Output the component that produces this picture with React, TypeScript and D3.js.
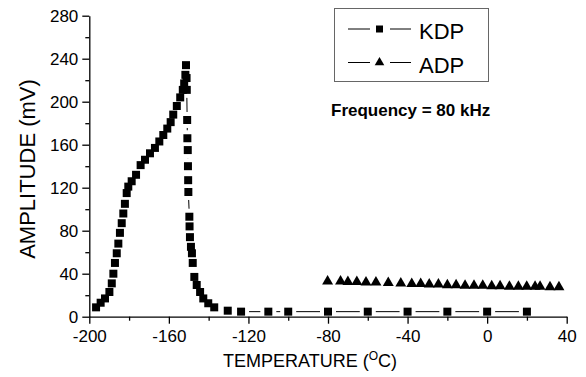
import { useRef, useEffect } from "react";
import * as d3 from "d3";

const svg_width = 586;
const svg_height = 377;

// KDP: temperature (°C) and amplitude (mV)
const kdpTemp = [
    -196.6, -194.3, -192.1, -189.9, -188.7, -187.9, -187.1, -186.2, -185.4, -184.6,
    -183.7, -182.9, -182.1, -181.2, -180.4, -178.7, -176.5, -174.2, -172.0, -169.5,
    -167.0, -164.8, -162.8, -160.8, -159.1, -157.8, -156.0, -154.3, -153.0, -152.3,
    -151.7, -151.4, -151.1, -151.0, -150.8, -150.7, -150.5, -150.4, -150.3, -150.2,
    -149.7, -149.6, -149.4, -148.9, -148.4, -148.0, -147.2, -146.0, -144.3, -142.7,
    -140.2, -137.2, -130.4, -123.7, -110, -100, -80, -60, -40, -20, 0, 20,
];
const kdpAmp = [
    8.7, 13, 17, 23, 31, 40, 50, 59, 68, 78,
    87, 96, 105, 115, 121, 126, 132, 141, 146, 152,
    157, 163, 169, 175, 181, 188, 196, 204, 211, 217,
    225, 234, 222, 211, 183, 166, 155, 140, 127, 116,
    93, 84, 74, 65, 59, 50, 37, 29.5, 23, 17,
    12.5, 8.7, 5.6, 4.7, 4.7, 4.7, 4.7, 4.7, 4.7, 4.7, 4.7, 4.7,
];

// ADP
const adpTemp = [
    -80.2, -73.7, -70.0, -65.5, -60.9, -55.9, -49.7, -43.4, -37.9, -33.4,
    -29.1, -24.5, -20.0, -15.6, -11.1, -6.6, -2.2, 2.3, 6.5, 11.2,
    15.7, 19.9, 24.1, 26.6, 31.6, 36.1,
];
const adpAmp = [
    33, 33, 32.5, 32.5, 32, 32, 31.5, 31, 30.5, 30.5,
    30, 30, 29.5, 29.5, 29, 29, 29, 28.5, 28.5, 28,
    28, 28, 28, 28, 27.5, 27.5,
];

const xTicks = [-200, -160, -120, -80, -40, 0, 40];
const xMinor = [-180, -140, -100, -60, -20, 20];
const yTicks = [0, 40, 80, 120, 160, 200, 240, 280];
const yMinor = [20, 60, 100, 140, 180, 220, 260];

const font = "'Liberation Sans', Arial, Helvetica, sans-serif";

export default function App() {
    const ref = useRef<HTMLDivElement>(null);

    useEffect(() => {
        const destroy = () => {
            d3.select(ref.current).selectAll("*").remove();
        };

        const x = d3.scaleLinear().domain([-200, 40]).range([89.3, 566.7]);
        const y = d3.scaleLinear().domain([0, 280]).range([316.7, 15.7]);

        const svg = d3.select(ref.current)
            .append("svg")
                .attr("width", svg_width)
                .attr("height", svg_height)
                .style("position", "absolute")
                .style("left", "0px")
                .style("top", "0px")
                .style("background-color", "white")
                .style("font-family", font);

        // axes
        const styleAxis = (g: any, size: number) => {
            g.selectAll("path").attr("stroke", "black").attr("stroke-width", 1.3);
            g.selectAll("line").attr("stroke", "black").attr("stroke-width", 1.3);
            g.selectAll("text").attr("fill", "black").style("font-size", `${size}px`).style("font-family", font);
        };

        const gx = svg.append("g")
            .attr("transform", `translate(0, ${y(0)})`)
            .call(d3.axisBottom(x).tickValues(xTicks).tickSize(7).tickSizeOuter(0).tickPadding(6)
                .tickFormat(d => String(d)));
        styleAxis(gx, 17);

        const gxm = svg.append("g")
            .attr("transform", `translate(0, ${y(0)})`)
            .call(d3.axisBottom(x).tickValues(xMinor).tickSize(4).tickSizeOuter(0).tickFormat(() => ""));
        gxm.select(".domain").remove();
        styleAxis(gxm, 17);

        const gy = svg.append("g")
            .attr("transform", `translate(${x(-200)}, 0)`)
            .call(d3.axisLeft(y).tickValues(yTicks).tickSize(7).tickSizeOuter(0).tickPadding(4)
                .tickFormat(d => String(d)));
        styleAxis(gy, 17);

        const gym = svg.append("g")
            .attr("transform", `translate(${x(-200)}, 0)`)
            .call(d3.axisLeft(y).tickValues(yMinor).tickSize(4).tickSizeOuter(0).tickFormat(() => ""));
        gym.select(".domain").remove();
        styleAxis(gym, 17);

        // axis titles
        const xt = svg.append("text")
            .attr("x", 310)
            .attr("y", 366.7)
            .attr("text-anchor", "middle")
            .style("font-size", "18px")
            .attr("fill", "black");
        xt.append("tspan").text("TEMPERATURE (");
        xt.append("tspan").attr("dy", -7).style("font-size", "12px").text("O");
        xt.append("tspan").attr("dy", 7).text("C)");

        svg.append("text")
            .attr("transform", `translate(35, 169) rotate(-90)`)
            .attr("text-anchor", "middle")
            .style("font-size", "22px")
            .attr("fill", "black")
            .text("AMPLITUDE (mV)");

        // line with gaps around the markers
        const drawLine = (ts: number[], as: number[], gap: number) => {
            const pts = ts.map((t, i) => [x(t), y(as[i])]);
            for (let i = 1; i < pts.length; i++) {
                const [x0, y0] = pts[i - 1];
                const [x1, y1] = pts[i];
                const d = Math.hypot(x1 - x0, y1 - y0);
                if (d <= 2 * gap) continue;
                const ux = (x1 - x0) / d;
                const uy = (y1 - y0) / d;
                svg.append("line")
                    .attr("x1", x0 + ux * gap).attr("y1", y0 + uy * gap)
                    .attr("x2", x1 - ux * gap).attr("y2", y1 - uy * gap)
                    .attr("stroke", "black")
                    .attr("stroke-width", 1);
            }
        };

        drawLine(kdpTemp, kdpAmp, 8);
        drawLine(adpTemp, adpAmp, 8);

        const square = d3.symbol().type(d3.symbolSquare).size(64);
        const triangle = d3.symbol().type(d3.symbolTriangle).size(52);

        svg.append("g").selectAll("path")
            .data(kdpTemp)
            .join("path")
                .attr("d", square)
                .attr("transform", (t, i) => `translate(${x(t)}, ${y(kdpAmp[i])})`)
                .attr("fill", "black");

        svg.append("g").selectAll("path")
            .data(adpTemp)
            .join("path")
                .attr("d", triangle)
                .attr("transform", (t, i) => `translate(${x(t)}, ${y(adpAmp[i])})`)
                .attr("fill", "black");

        // legend
        const legend = svg.append("g");
        legend.append("rect")
            .attr("x", 334.5).attr("y", 8.5)
            .attr("width", 154).attr("height", 73)
            .attr("fill", "white")
            .attr("stroke", "#666")
            .attr("stroke-width", 1);

        const rows = [
            { name: "KDP", sym: d3.symbol().type(d3.symbolSquare).size(49), ly: 29, ty: 38.5 },
            { name: "ADP", sym: d3.symbol().type(d3.symbolTriangle).size(40), ly: 62.5, ty: 72.5 },
        ];
        rows.forEach(r => {
            legend.append("line").attr("x1", 348).attr("x2", 370).attr("y1", r.ly).attr("y2", r.ly)
                .attr("stroke", "black").attr("stroke-width", 1);
            legend.append("line").attr("x1", 390).attr("x2", 411).attr("y1", r.ly).attr("y2", r.ly)
                .attr("stroke", "black").attr("stroke-width", 1);
            legend.append("path").attr("d", r.sym()).attr("transform", `translate(379.5, ${r.ly})`)
                .attr("fill", "black");
            legend.append("text").attr("x", 419).attr("y", r.ty)
                .style("font-size", "22px").attr("fill", "black").text(r.name);
        });

        svg.append("text")
            .attr("x", 331)
            .attr("y", 116)
            .style("font-size", "17px")
            .style("font-weight", "bold")
            .attr("fill", "black")
            .text("Frequency = 80 kHz");

        return destroy;
    }, [ref]);

    return (
        <div ref={ref} />
    );
}
